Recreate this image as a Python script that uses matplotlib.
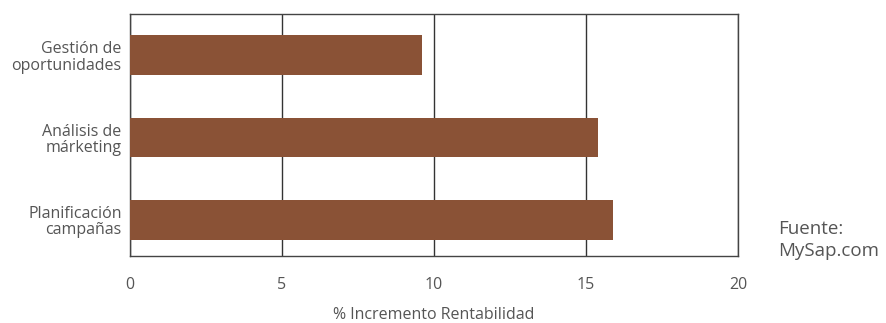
import matplotlib
matplotlib.use("Agg")
import matplotlib.pyplot as plt

plt.rcParams['font.family'] = ['Open Sans', 'DejaVu Sans']

categories = ['Gestión de\noportunidades', 'Análisis de\nmárketing', 'Planificación\ncampañas']
values = [9.6, 15.4, 15.9]
xticks = [0, 5, 10, 15, 20]

fig = plt.figure(figsize=(8.87, 3.23), dpi=100)
ax = fig.add_axes([0.1466, 0.2074, 0.6855, 0.749])

ypos = list(range(len(categories)))
ax.barh(ypos, values, height=0.48, color='#8a5236', zorder=3)

ax.set_xlim(0, 20)
ax.set_ylim(2.44, -0.5)
ax.set_xticks(xticks)
ax.set_xticklabels([str(t) for t in xticks], color='#555555', fontsize=11.5)
ax.set_yticks(ypos)
ax.set_yticklabels(categories, color='#555555', fontsize=11.5,
                   linespacing=1.05, multialignment='right')
ax.tick_params(length=0, pad=6)
ax.tick_params(axis='x', pad=15)

ax.grid(axis='x', color='#333333', linewidth=1.0, zorder=1)
for s in ax.spines.values():
    s.set_color('#444444')
    s.set_linewidth(1.0)

ax.set_xlabel('% Incremento Rentabilidad', color='#555555', fontsize=11.5, labelpad=10)

fig.text(0.877, 0.318, 'Fuente:\nMySap.com', color='#555555', fontsize=13.5,
         linespacing=1.25, va='top')

fig.savefig('out.png', dpi=100)
